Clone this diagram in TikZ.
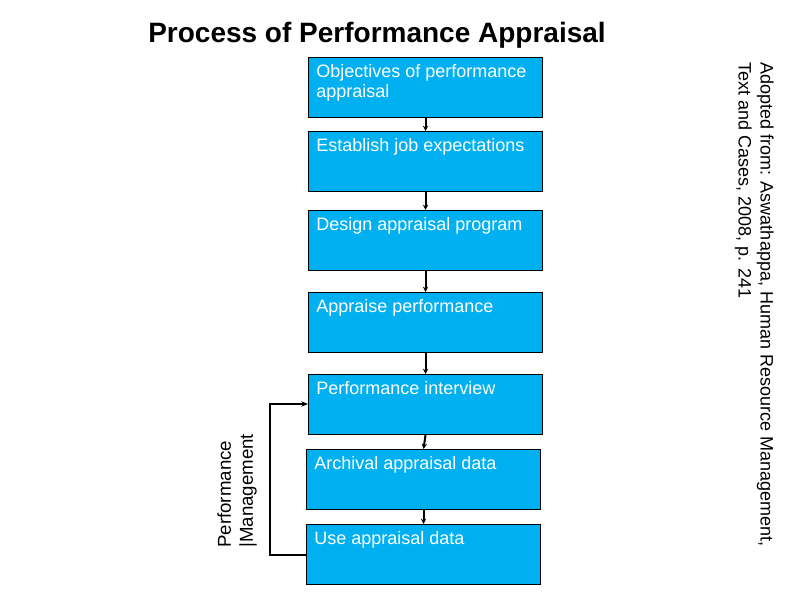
\documentclass[tikz,border=0pt]{standalone}
\usepackage{fontspec}
\setmainfont{Liberation Sans}
\usetikzlibrary{arrows.meta}
\begin{document}
\begin{tikzpicture}[x=0.75pt,y=-0.75pt,
  box/.style={draw=black,fill={rgb,255:red,0;green,176;blue,240},line width=0.8pt,minimum width=175.5pt,minimum height=45pt,anchor=north west,inner sep=0pt},
  lbl/.style={text=white,font=\fontsize{13.5}{15}\selectfont,anchor=north west,align=left,inner sep=0pt},
  conn/.style={line width=1.5pt,-{Stealth[length=4pt,width=4pt]}}]
\useasboundingbox (0,0) rectangle (794,595);
\node[font=\bfseries\fontsize{21}{24}\selectfont,anchor=west,inner sep=0pt] (title) at (148,35) {Process of Performance Appraisal};
\foreach \n/\x/\t/\s in {b1/308/57/{Objectives of performance\\appraisal},
  b2/308/131/{Establish job expectations},
  b3/308/210/{Design appraisal program},
  b4/308/292/{Appraise performance},
  b5/308/374/{Performance interview},
  b6/306/449/{Archival appraisal data},
  b7/306/524/{Use appraisal data}}{
  \node[box] (\n) at (\x,\t) {};
  \node[lbl] (\n-t) at ({\x+8},{\t+7}) {\s};
}
\draw[conn] (b1.south) -- (b2.north);
\draw[conn] (b2.south) -- (b3.north);
\draw[conn] (b3.south) -- (b4.north);
\draw[conn] (b4.south) -- (b5.north);
\draw[conn] (b5.south) -- (b6.north);
\draw[conn] (b6.south) -- (b7.north);
\draw[line width=1.2pt,-{Stealth[length=5pt,width=4pt]}] (b7.west |- 0,555) -- (270,555) -- (270,404) -- (b5.west |- 0,404);
\node[rotate=90,anchor=north west,align=left,inner sep=0pt,font=\fontsize{14}{16.5}\selectfont] (pm) at (217,548) {Performance\\|Management};
\node[rotate=-90,anchor=north west,align=left,inner sep=0pt,font=\fontsize{13.5}{16.5}\selectfont] (src) at (774,62) {Adopted from: Aswathappa, Human Resource Management,\\Text and Cases, 2008, p. 241};
\end{tikzpicture}
\end{document}
